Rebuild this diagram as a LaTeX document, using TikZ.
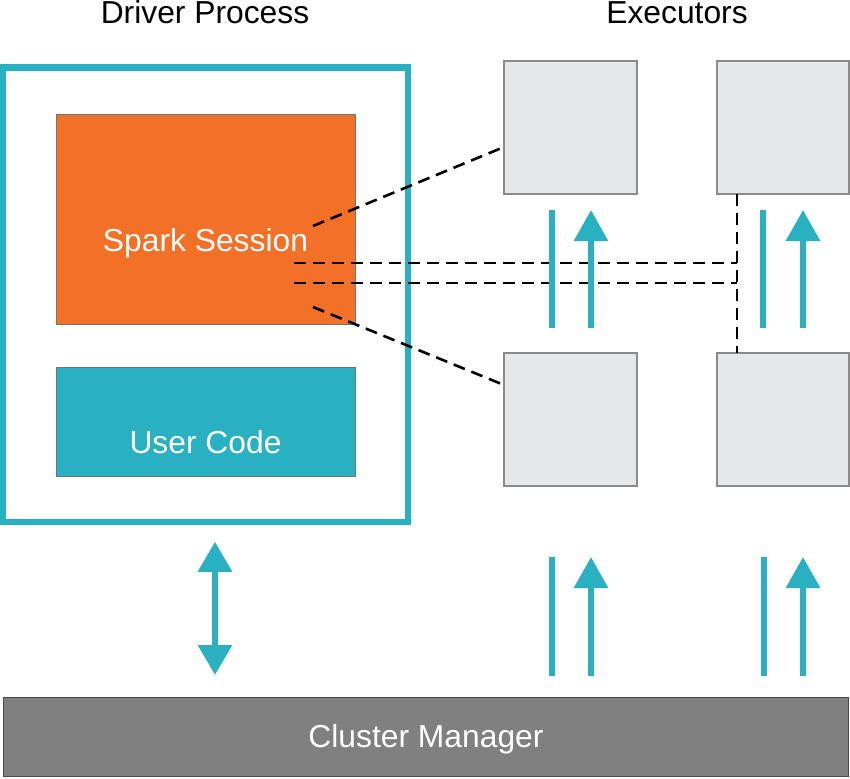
\documentclass[tikz,border=0pt]{standalone}
\usepackage{fontspec}
\setmainfont{Liberation Sans}
\usetikzlibrary{arrows.meta,calc}
\definecolor{tealc}{HTML}{29B1C2}
\definecolor{orangec}{HTML}{F37027}
\definecolor{execfill}{HTML}{E6E7E8}
\definecolor{execline}{HTML}{8A8A8A}
\definecolor{cmfill}{HTML}{808080}
\definecolor{cmline}{HTML}{4A4A4A}
\begin{document}
\begin{tikzpicture}[x=1pt,y=-1pt,
  every node/.style={font=\fontsize{31.8}{38}\selectfont, inner sep=0pt, outer sep=0pt},
  title/.style={anchor=base, text=black},
  boxtext/.style={anchor=base, text=white},
  driverbox/.style={draw=tealc, line width=6.5pt, fill=white},
  sessbox/.style={draw=black!55, line width=0.8pt, fill=orangec},
  codebox/.style={draw=black!55, line width=0.8pt, fill=tealc},
  execbox/.style={draw=execline, line width=1.2pt, fill=execfill, minimum width=133pt, minimum height=133pt},
  cmbox/.style={draw=cmline, line width=1pt, fill=cmfill},
  link/.style={draw=black, line width=2.6pt, dash pattern=on 12pt off 7pt},
  tline/.style={draw=tealc, line width=6pt},
  tarrow/.style={draw=tealc, line width=6pt, -{Triangle[width=33pt,length=31pt]}},
  tdarrow/.style={draw=tealc, line width=6pt, {Triangle[width=33pt,length=30pt]}-{Triangle[width=33pt,length=30pt]}}
]
\useasboundingbox (0,0) rectangle (850,778);

% titles
\node[title] (tdriver) at (205,23.5) {Driver Process};
\node[title] (texec) at (677,23.5) {Executors};

% driver
\node[driverbox, minimum width=405pt, minimum height=454pt] (driver) at (205.5,294.75) {};
\node[sessbox, minimum width=299pt, minimum height=210pt] (ss) at (205.5,219) {};
\node[boxtext] (sstext) at (205.5,251) {Spark Session};
\node[codebox, minimum width=299pt, minimum height=109pt] (uc) at (205.5,421.5) {};
\node[boxtext] (uctext) at (205.5,453) {User Code};

% executors
\node[execbox] (e1) at (570.5,127.5) {};
\node[execbox, minimum width=132pt] (e2) at (783,127.5) {};
\node[execbox] (e3) at (570.5,419.5) {};
\node[execbox, minimum width=132pt] (e4) at (783,419.5) {};

% cluster manager
\node[cmbox, minimum width=845pt, minimum height=79pt] (cm) at (426,736.5) {};
\node[boxtext] (cmtext) at (426,747) {Cluster Manager};

% dashed links
\coordinate (v1) at ($(e2.south west)+(20,0)$);
\coordinate (v2) at ($(e4.north west)+(20,0)$);
\draw[link] ($(ss.east)+(-42,7)$) -- ($(e1.west)+(0,19.5)$);
\draw[link] ($(ss.east)+(-42,88)$) -- ($(e3.west)+(0,-34.5)$);
\draw[link] ($(ss.east)+(-61,44)$) -- ($(v1)+(0,69)$);
\draw[link] ($(ss.east)+(-61,64)$) -- ($(v1)+(0,89)$);
\draw[link] (v1) -- (v2);

% teal arrows between executor rows
\draw[tline] (552,210) -- (552,328);
\draw[tarrow] (591,328) -- (591,210);
\draw[tline] (763,210) -- (763,328);
\draw[tarrow] (803,328) -- (803,210);

% teal arrows to cluster manager
\draw[tline] (552,557) -- (552,676);
\draw[tarrow] (591,676) -- (591,557);
\draw[tline] (764,557) -- (764,676);
\draw[tarrow] (803,676) -- (803,557);

% driver <-> cluster manager
\draw[tdarrow] ($(driver.south)+(9.5,20)$) -- ($(cm.north)+(-211,-22)$);
\end{tikzpicture}
\end{document}
